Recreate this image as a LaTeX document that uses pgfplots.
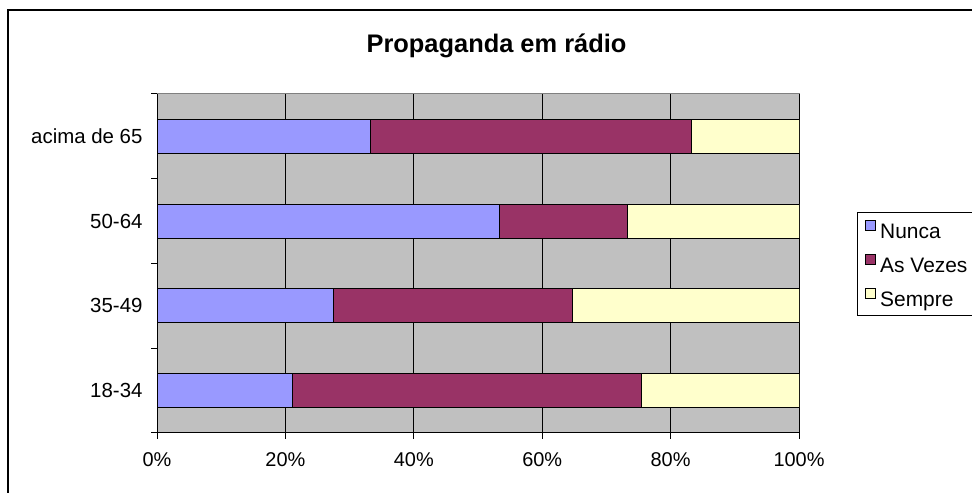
\documentclass[border=0pt]{standalone}
\usepackage{pgfplots}
\pgfplotsset{compat=1.18}
\usepackage{fontspec}
\setmainfont{Liberation Sans}
\definecolor{cNunca}{RGB}{153,153,255}
\definecolor{cVezes}{RGB}{153,51,102}
\definecolor{cSempre}{RGB}{255,255,204}
\definecolor{plotbg}{RGB}{192,192,192}
\definecolor{border}{RGB}{128,128,128}
\begin{document}
\begin{tikzpicture}
\useasboundingbox (0,0) rectangle (972bp,493bp);
\clip (0,0) rectangle (972bp,493bp);
\fill[white] (0,0) rectangle (972bp,493bp);
\draw[line width=2bp] (8bp,483bp) rectangle (990bp,-20bp);
\node[anchor=base, font=\fontsize{25.5}{30}\selectfont\bfseries] at (496.5bp,440bp) {Propaganda em rádio};
\begin{axis}[
  at={(157bp,60bp)}, anchor=south west,
  scale only axis, width=642bp, height=339bp,
  xbar stacked, bar width=34bp,
  xmin=0, xmax=100, ymin=-0.5, ymax=3.5,
  axis lines*=left,
  axis line style={black, line width=1bp},
  axis background/.style={fill=plotbg, draw=border, line width=1bp},
  xtick={0,20,40,60,80,100},
  xticklabels={0\%,20\%,40\%,60\%,80\%,100\%},
  ytick={0,1,2,3},
  yticklabels={18-34,35-49,50-64,acima de 65},
  minor ytick={-0.5,0.5,1.5,2.5,3.5},
  major y tick style={draw=none},
  minor y tick style={black, line width=1bp},
  major x tick style={black, line width=1bp},
  tick align=outside,
  major tick length=6bp, minor tick length=6bp,
  xmajorgrids, ymajorgrids=false,
  major x grid style={black, line width=0.8bp},
  ticklabel style={font=\fontsize{20}{24}\selectfont},
  /pgf/number format/assume math mode=true,
  xticklabel style={yshift=-10bp},
  yticklabel style={font=\fontsize{20.5}{24}\selectfont, xshift=-5bp},
  legend style={at={(1.0899,0.6519)}, anchor=north west,
    draw=black, line width=1bp, fill=white,
    font=\fontsize{21}{25}\selectfont,
    inner xsep=8bp, inner ysep=7bp, row sep=13.5bp, column sep=4bp,
    nodes={inner sep=0pt, text height=16bp, text depth=2bp}},
  legend cell align=left,
  legend image code/.code={\draw[#1, line width=1bp, draw=black] (0bp,1bp) rectangle (10bp,11bp);},
]
\addplot[fill=cNunca, draw=black, line width=1bp] coordinates {(21.1,0) (27.5,1) (53.3,2) (33.3,3)};
\addplot[fill=cVezes, draw=black, line width=1bp] coordinates {(54.4,0) (37.2,1) (20.0,2) (50.0,3)};
\addplot[fill=cSempre, draw=black, line width=1bp] coordinates {(24.5,0) (35.3,1) (26.7,2) (16.7,3)};
\legend{Nunca,As Vezes,Sempre}
\end{axis}
\end{tikzpicture}
\end{document}
